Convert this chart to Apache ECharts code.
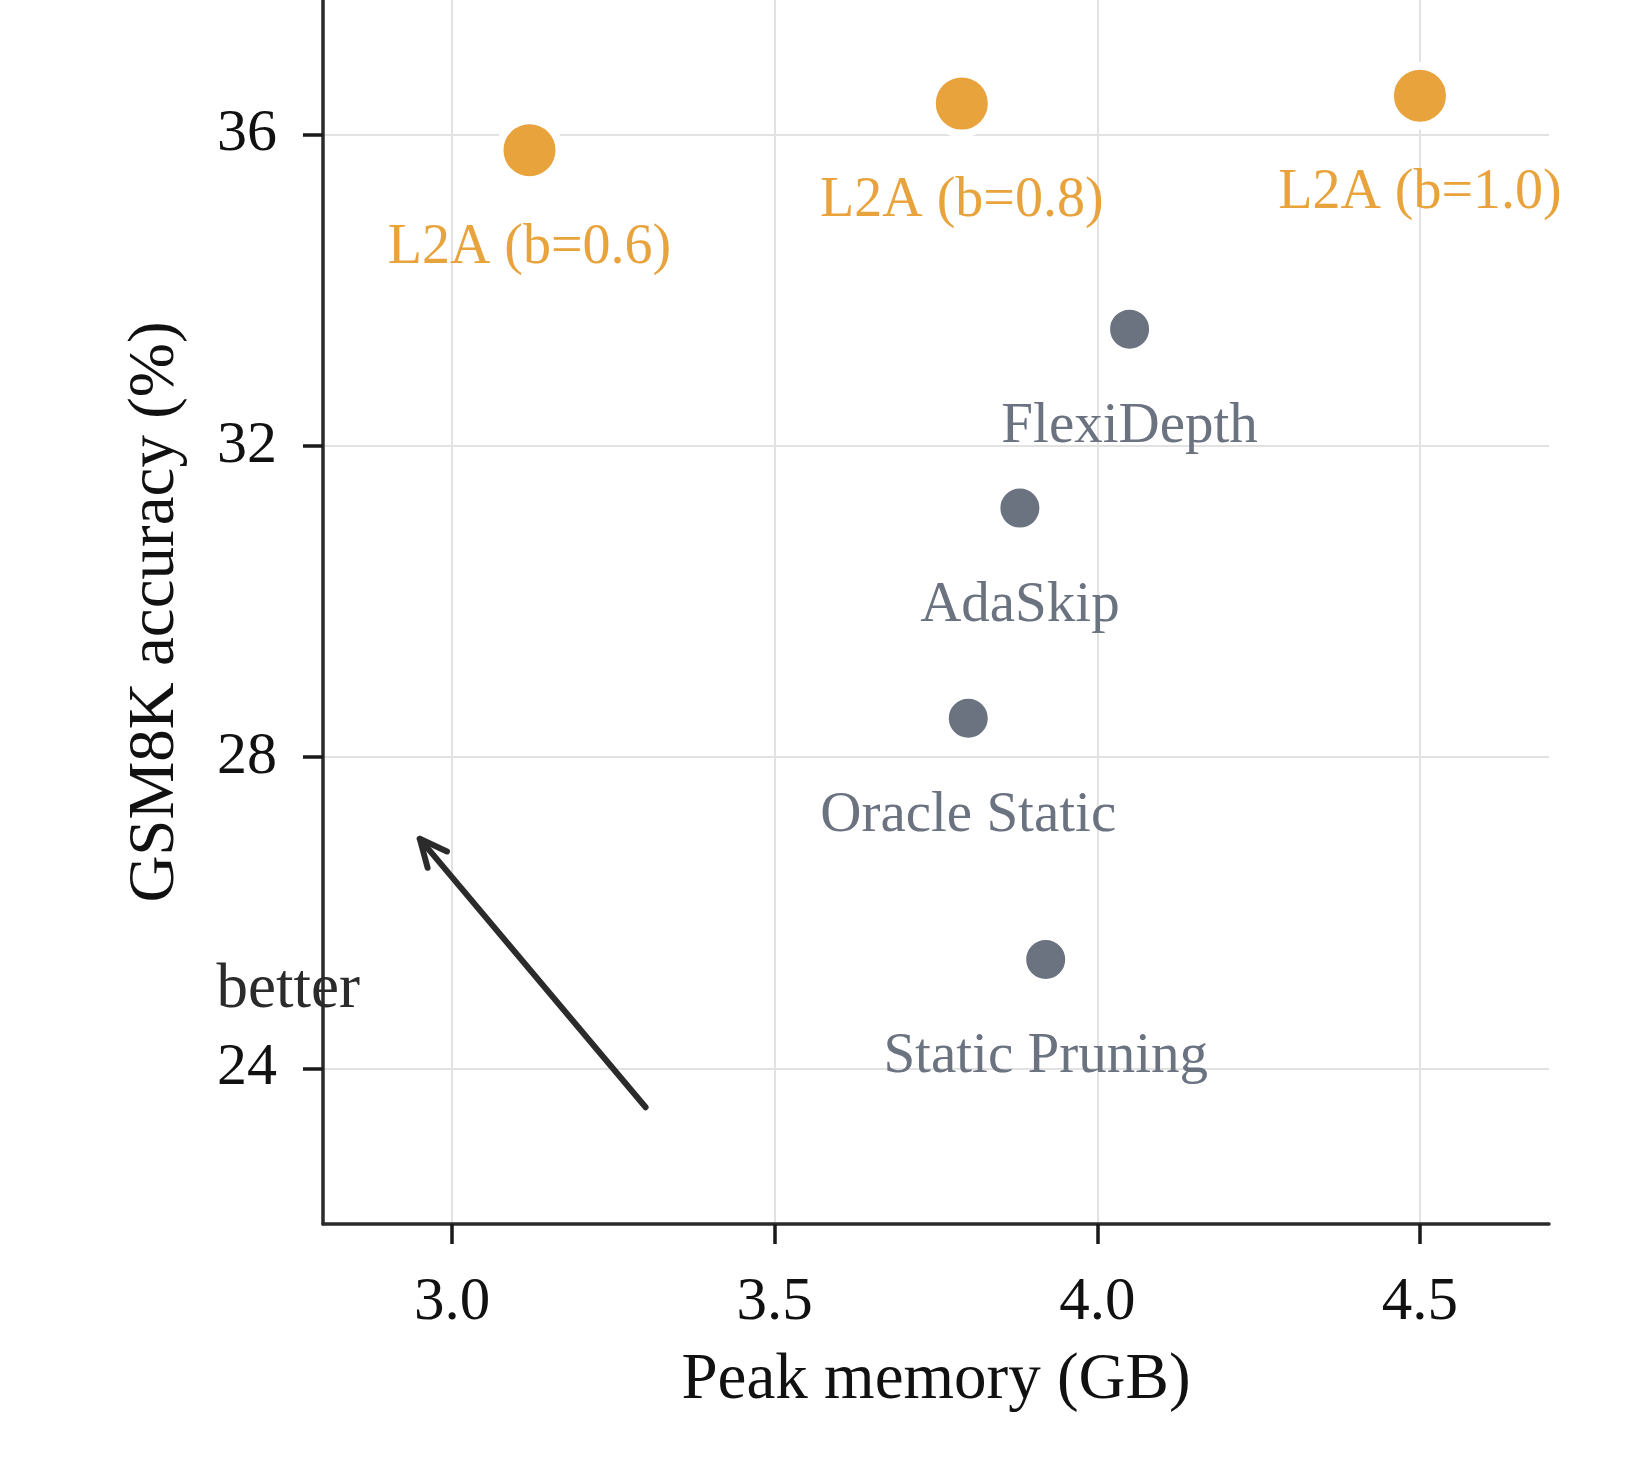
<!DOCTYPE html>
<html><head><meta charset="utf-8">
<script src="https://cdn.jsdelivr.net/npm/echarts@6/dist/echarts.min.js"></script>
<style>html,body{margin:0;padding:0;background:#fff}#c{width:1645px;height:1470px}</style>
</head><body><div id="c"></div>
<script>
// ---- data ----
const xTicks = [3.0, 3.5, 4.0, 4.5];
const yTicks = [24, 28, 32, 36];
const l2aNames = ['L2A (b=0.6)', 'L2A (b=0.8)', 'L2A (b=1.0)'];
const l2aMemory = [3.12, 3.79, 4.50];
const l2aAccuracy = [35.8, 36.4, 36.5];
const baseNames = ['FlexiDepth', 'AdaSkip', 'Oracle Static', 'Static Pruning'];
const baseMemory = [4.05, 3.88, 3.80, 3.92];
const baseAccuracy = [33.5, 31.2, 28.5, 25.4];
const arrowTail = [3.3, 23.5];
const arrowHead = [2.95, 26.95];
const betterText = 'better';
const betterPos = [2.635, 25.0];

// ---- style ----
const FONT = '"Liberation Serif", "DejaVu Serif", serif';
const ORANGE = '#E8A33D';
const GRAY = '#6B7280';
const INK = '#2b2b2b';

const chart = echarts.init(document.getElementById('c'), null, {renderer: 'canvas'});

function pts(names, xs, ys) {
  return names.map((n, i) => ({name: n, value: [xs[i], ys[i]]}));
}

const option = {
  backgroundColor: '#ffffff',
  animation: false,
  grid: {left: 323, right: 96, top: 0, bottom: 246, containLabel: false},
  xAxis: {
    type: 'value', min: 2.8, max: 4.7,
    name: 'Peak memory (GB)', nameLocation: 'middle', nameGap: 124,
    nameTextStyle: {fontFamily: FONT, fontSize: 65, color: '#111'},
    axisLine: {show: true, lineStyle: {color: INK, width: 3.5}},
    axisTick: {show: true, customValues: xTicks, length: 20, lineStyle: {color: '#1a1a1a', width: 3.5}},
    axisLabel: {customValues: xTicks, formatter: v => Number(v).toFixed(1), fontFamily: FONT, fontSize: 61, color: '#111', margin: 48},
    splitLine: {show: true, lineStyle: {color: '#e2e2e2', width: 2}}
  },
  yAxis: {
    type: 'value', min: 22, max: 37.73,
    name: 'GSM8K accuracy (%)', nameLocation: 'middle', nameGap: 135,
    nameTextStyle: {fontFamily: FONT, fontSize: 65, color: '#111'},
    axisLine: {show: true, lineStyle: {color: INK, width: 3.5}},
    axisTick: {show: true, customValues: yTicks, length: 20, lineStyle: {color: '#1a1a1a', width: 3.5}},
    axisLabel: {customValues: yTicks, formatter: v => String(Math.round(v)), fontFamily: FONT, fontSize: 60, color: '#111', margin: 46},
    splitLine: {show: true, lineStyle: {color: '#e2e2e2', width: 2}}
  },
  series: [
    {
      type: 'scatter', name: 'L2A', z: 3,
      data: pts(l2aNames, l2aMemory, l2aAccuracy),
      symbol: 'circle', symbolSize: 60,
      itemStyle: {color: ORANGE, borderColor: '#ffffff', borderWidth: 8, opacity: 1},
      label: {show: true, position: 'inside', offset: [0, 98], formatter: '{b}',
              fontFamily: FONT, fontSize: 56, color: ORANGE},
      emphasis: {disabled: true}
    },
    {
      type: 'scatter', name: 'Baselines', z: 3,
      data: pts(baseNames, baseMemory, baseAccuracy),
      symbol: 'circle', symbolSize: 47,
      itemStyle: {color: GRAY, borderColor: '#ffffff', borderWidth: 8, opacity: 1},
      label: {show: true, position: 'inside', offset: [0, 98], formatter: '{b}',
              fontFamily: FONT, fontSize: 57, color: GRAY},
      emphasis: {disabled: true}
    },
    {
      type: 'custom', name: 'arrow', z: 4, clip: false, silent: true,
      data: [[arrowTail[0], arrowTail[1], arrowHead[0], arrowHead[1]]],
      renderItem: function (params, api) {
        const p0 = api.coord([api.value(0), api.value(1)]);
        const p1 = api.coord([api.value(2), api.value(3)]);
        const ang = Math.atan2(p0[1] - p1[1], p0[0] - p1[0]);
        const L = 30, spread = 25 * Math.PI / 180;
        const h1 = [p1[0] + L * Math.cos(ang + spread), p1[1] + L * Math.sin(ang + spread)];
        const h2 = [p1[0] + L * Math.cos(ang - spread), p1[1] + L * Math.sin(ang - spread)];
        const st = {stroke: INK, lineWidth: 6, lineCap: 'round', lineJoin: 'round', fill: null};
        return {type: 'group', children: [
          {type: 'line', shape: {x1: p0[0], y1: p0[1], x2: p1[0], y2: p1[1]}, style: st},
          {type: 'polyline', shape: {points: [h1, p1, h2]}, style: st}
        ]};
      }
    },
    {
      type: 'custom', name: 'better', z: 4, clip: false, silent: true,
      data: [[betterPos[0], betterPos[1], betterText]],
      renderItem: function (params, api) {
        const p = api.coord([api.value(0), api.value(1)]);
        return {type: 'text', x: p[0], y: p[1], style: {
          text: betterText, fill: INK, font: '63px ' + FONT, align: 'left', verticalAlign: 'middle'
        }};
      }
    }
  ]
};
chart.setOption(option);
</script>
</body></html>
